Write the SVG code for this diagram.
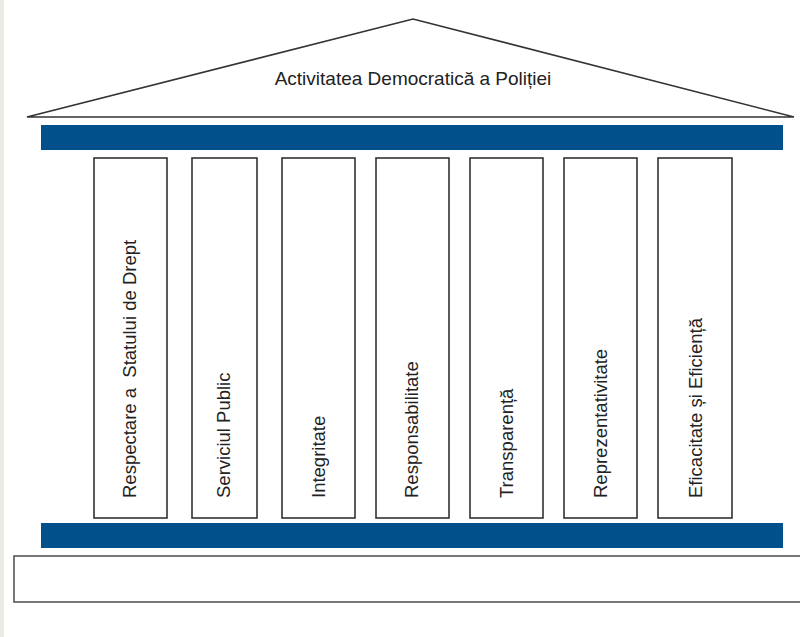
<svg xmlns="http://www.w3.org/2000/svg" width="800" height="637" viewBox="0 0 800 637">
  <style>
    .col { fill: #ffffff; stroke: #333333; stroke-width: 1.6; }
    .bar { fill: #02508b; }
    .lbl { font-family: "Liberation Sans", Arial, sans-serif; font-size: 18.5px; fill: #222222; }
    .title { font-size: 19px; }
  </style>
  <rect x="0" y="0" width="800" height="637" fill="#ffffff"/>
  <rect x="0" y="0" width="4" height="637" fill="#ebebe5"/>
  <g id="roof">
    <polygon points="27,117 413,19 794,117" fill="#ffffff" stroke="#333333" stroke-width="1.6" stroke-linejoin="miter"/>
    <text class="lbl title" x="413" y="85" text-anchor="middle">Activitatea Democratică a Poliției</text>
  </g>
  <g id="top-beam">
    <rect class="bar" x="41" y="125" width="742" height="25"/>
  </g>
  <g id="col1">
    <rect class="col" x="94" y="158" width="73" height="360"/>
    <text class="lbl" transform="translate(136,498) rotate(-90)" xml:space="preserve">Respectare a  Statului de Drept</text>
  </g>
  <g id="col2">
    <rect class="col" x="192" y="158" width="65" height="360"/>
    <text class="lbl" transform="translate(230,498) rotate(-90)">Serviciul Public</text>
  </g>
  <g id="col3">
    <rect class="col" x="282" y="158" width="73" height="360"/>
    <text class="lbl" transform="translate(325,498) rotate(-90)">Integritate</text>
  </g>
  <g id="col4">
    <rect class="col" x="376" y="158" width="73" height="360"/>
    <text class="lbl" transform="translate(418,498) rotate(-90)">Responsabilitate</text>
  </g>
  <g id="col5">
    <rect class="col" x="470" y="158" width="73" height="360"/>
    <text class="lbl" transform="translate(513,498) rotate(-90)">Transparență</text>
  </g>
  <g id="col6">
    <rect class="col" x="564" y="158" width="73" height="360"/>
    <text class="lbl" transform="translate(607,498) rotate(-90)">Reprezentativitate</text>
  </g>
  <g id="col7">
    <rect class="col" x="658" y="158" width="74" height="360"/>
    <text class="lbl" transform="translate(702,498) rotate(-90)">Eficacitate și Eficiență</text>
  </g>
  <g id="bottom-beam">
    <rect class="bar" x="41" y="523" width="742" height="25"/>
  </g>
  <g id="base">
    <rect x="14" y="556" width="800" height="46" fill="#ffffff" stroke="#555555" stroke-width="1.6"/>
  </g>
  <g id="connectors"></g>
</svg>
